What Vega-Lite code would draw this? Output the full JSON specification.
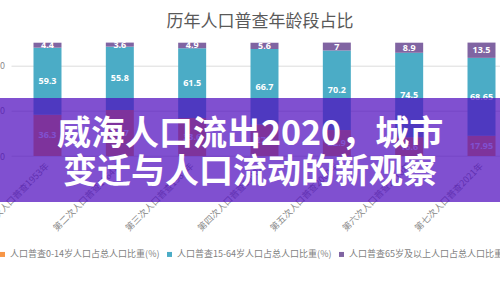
{
  "$schema": "https://vega.github.io/schema/vega-lite/v6.json",
  "width": 489,
  "height": 113.3,
  "autosize": {"type": "none"},
  "padding": {"left": 11, "top": 42.7, "right": 0, "bottom": 144},
  "background": "white",
  "config": {
    "font": "Noto Sans CJK SC",
    "view": {"stroke": null},
    "axisY": {"domain": false, "ticks": false, "grid": true, "gridColor": "#dcdcdc", "labelColor": "#8c8c8c", "labelFontSize": 9, "labelPadding": 6.5},
    "axisX": {"domain": false, "ticks": false, "grid": false, "labelAngle": -45, "labelAlign": "right", "labelBaseline": "middle", "labelFontSize": 9, "labelColor": "#8c8c8c", "labelPadding": 8}
  },
  "title": {"text": "历年人口普查年龄段占比", "fontSize": 17, "fontWeight": "normal", "color": "#595959", "anchor": "middle", "dx": 4.5, "offset": 10},
  "datasets": {
    "census": [
      {"census": "第一次人口普查1953年", "group": "人口普查0-14岁人口占总人口比重(%)", "value": 36.3},
      {"census": "第一次人口普查1953年", "group": "人口普查15-64岁人口占总人口比重(%)", "value": 59.3},
      {"census": "第一次人口普查1953年", "group": "人口普查65岁及以上人口占总人口比重(%)", "value": 4.4},
      {"census": "第二次人口普查1964年", "group": "人口普查0-14岁人口占总人口比重(%)", "value": 40.7},
      {"census": "第二次人口普查1964年", "group": "人口普查15-64岁人口占总人口比重(%)", "value": 55.8},
      {"census": "第二次人口普查1964年", "group": "人口普查65岁及以上人口占总人口比重(%)", "value": 3.6},
      {"census": "第三次人口普查1982年", "group": "人口普查0-14岁人口占总人口比重(%)", "value": 33.6},
      {"census": "第三次人口普查1982年", "group": "人口普查15-64岁人口占总人口比重(%)", "value": 61.5},
      {"census": "第三次人口普查1982年", "group": "人口普查65岁及以上人口占总人口比重(%)", "value": 4.9},
      {"census": "第四次人口普查1990年", "group": "人口普查0-14岁人口占总人口比重(%)", "value": 27.7},
      {"census": "第四次人口普查1990年", "group": "人口普查15-64岁人口占总人口比重(%)", "value": 66.7},
      {"census": "第四次人口普查1990年", "group": "人口普查65岁及以上人口占总人口比重(%)", "value": 5.6},
      {"census": "第五次人口普查2000年", "group": "人口普查0-14岁人口占总人口比重(%)", "value": 22.9},
      {"census": "第五次人口普查2000年", "group": "人口普查15-64岁人口占总人口比重(%)", "value": 70.2},
      {"census": "第五次人口普查2000年", "group": "人口普查65岁及以上人口占总人口比重(%)", "value": 7},
      {"census": "第六次人口普查2010年", "group": "人口普查0-14岁人口占总人口比重(%)", "value": 16.6},
      {"census": "第六次人口普查2010年", "group": "人口普查15-64岁人口占总人口比重(%)", "value": 74.5},
      {"census": "第六次人口普查2010年", "group": "人口普查65岁及以上人口占总人口比重(%)", "value": 8.9},
      {"census": "第七次人口普查2021年", "group": "人口普查0-14岁人口占总人口比重(%)", "value": 17.95},
      {"census": "第七次人口普查2021年", "group": "人口普查15-64岁人口占总人口比重(%)", "value": 68.65},
      {"census": "第七次人口普查2021年", "group": "人口普查65岁及以上人口占总人口比重(%)", "value": 13.5}
    ],
    "notes": [
      {"kind": "headline1", "text": "威海人口流出2020，城市"},
      {"kind": "headline2", "text": "变迁与人口流动的新观察"},
      {"kind": "source", "text": "数据来源：国家统计局，诸葛找房数据研究中心"}
    ]
  },
  "layer": [
    {
      "data": {"name": "census"},
      "layer": [
        {
          "mark": {"type": "bar"},
          "encoding": {
            "x": {"field": "census", "type": "nominal", "sort": null, "title": null, "scale": {"range": [0, 507], "paddingInner": 0.613, "paddingOuter": 0.311}},
            "y": {"field": "value", "type": "quantitative", "stack": "zero", "title": null, "scale": {"domain": [0, 100], "nice": false}, "axis": {"values": [0, 20, 40, 60, 80, 100]}},
            "order": {"field": "group", "sort": "ascending"},
            "color": {
              "field": "group", "type": "nominal",
              "scale": {"domain": ["人口普查0-14岁人口占总人口比重(%)", "人口普查15-64岁人口占总人口比重(%)", "人口普查65岁及以上人口占总人口比重(%)"], "range": ["#F79646", "#4BACC6", "#8064A2"]},
              "legend": {"orient": "none", "legendX": -13, "legendY": 207, "direction": "horizontal", "columns": 3, "title": null, "symbolType": "square", "symbolSize": 25, "symbolStrokeWidth": 0, "labelFontSize": 9, "labelColor": "#7f7f7f", "labelLimit": 400, "labelOffset": 3, "columnPadding": 5, "padding": 0}
            }
          }
        },
        {
          "mark": {"type": "text", "color": "white", "fontSize": 9, "fontWeight": "bold", "baseline": "middle", "font": "Open Sans"},
          "encoding": {
            "x": {"field": "census", "type": "nominal", "sort": null},
            "y": {"field": "value", "type": "quantitative", "stack": "zero", "bandPosition": 0.5},
            "order": {"field": "group", "sort": "ascending"},
            "detail": {"field": "group", "type": "nominal"},
            "text": {"field": "value", "type": "nominal"}
          }
        }
      ]
    },
    {
      "data": {"name": "notes"},
      "layer": [
        {
          "transform": [{"filter": "datum.kind === 'headline1'"}],
          "mark": {"type": "rect", "color": "#4F0CBE", "opacity": 0.72},
          "encoding": {
            "x": {"datum": -0.05, "type": "quantitative", "scale": {"domain": [0, 1]}, "axis": null},
            "x2": {"datum": 1.05},
            "y": {"datum": 51.2, "type": "quantitative", "title": null},
            "y2": {"datum": -40.6}
          }
        },
        {
          "transform": [{"filter": "datum.kind === 'headline1'"}],
          "mark": {"type": "text", "color": "white", "fontSize": 34, "fontWeight": "bold", "align": "center", "baseline": "middle"},
          "encoding": {
            "x": {"datum": 0.4888, "type": "quantitative"},
            "y": {"datum": 18.5, "type": "quantitative"},
            "text": {"field": "text"}
          }
        },
        {
          "transform": [{"filter": "datum.kind === 'headline2'"}],
          "mark": {"type": "text", "color": "white", "fontSize": 34, "fontWeight": "bold", "align": "center", "baseline": "middle"},
          "encoding": {
            "x": {"datum": 0.4888, "type": "quantitative"},
            "y": {"datum": -15.4, "type": "quantitative"},
            "text": {"field": "text"}
          }
        },
        {
          "transform": [{"filter": "datum.kind === 'source'"}],
          "mark": {"type": "text", "color": "#3a3a3a", "fontSize": 10.5, "align": "left", "baseline": "middle"},
          "encoding": {
            "x": {"datum": 0.564, "type": "quantitative"},
            "y": {"datum": -212, "type": "quantitative"},
            "text": {"field": "text"}
          }
        }
      ]
    }
  ],
  "resolve": {"scale": {"x": "independent"}}
}
